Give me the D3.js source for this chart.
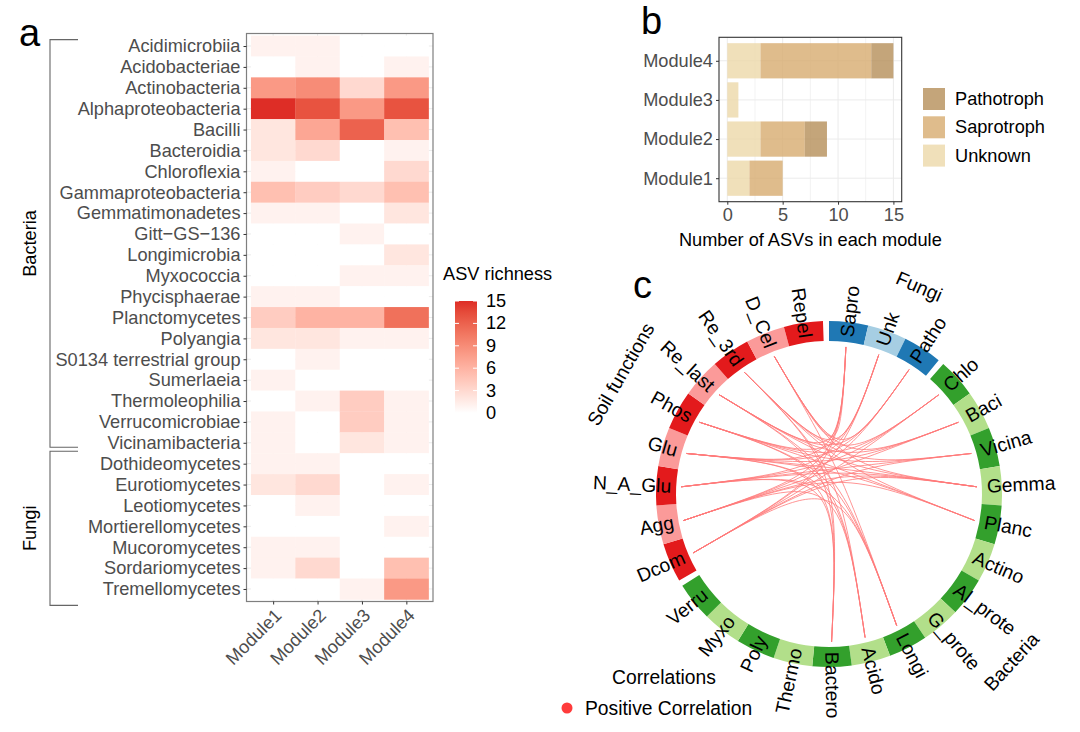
<!DOCTYPE html>
<html><head><meta charset="utf-8">
<script src="https://cdn.jsdelivr.net/npm/d3@7"></script>
<style>body{margin:0;background:#fff} text{font-family:"Liberation Sans",Arial,sans-serif}</style>
</head><body><svg id="c" width="1080" height="732"></svg>
<script>
// ---------- Panel a data ----------
const taxa = ["Acidimicrobiia","Acidobacteriae","Actinobacteria","Alphaproteobacteria","Bacilli","Bacteroidia","Chloroflexia","Gammaproteobacteria","Gemmatimonadetes","Gitt\u2212GS\u2212136","Longimicrobia","Myxococcia","Phycisphaerae","Planctomycetes","Polyangia","S0134 terrestrial group","Sumerlaeia","Thermoleophilia","Verrucomicrobiae","Vicinamibacteria","Dothideomycetes","Eurotiomycetes","Leotiomycetes","Mortierellomycetes","Mucoromycetes","Sordariomycetes","Tremellomycetes"];
const bacteriaTaxa = ["Acidimicrobiia","Vicinamibacteria"];
const fungiTaxa = ["Dothideomycetes","Tremellomycetes"];
const modules = ["Module1","Module2","Module3","Module4"];
const richModule1 = [1,0,8,15,2,2,1,5,1,0,0,0,1,4,2,0,1,0,1,1,1,2,0,0,1,1,0];
const richModule2 = [1,1,9,13,7,3,0,4,1,0,0,0,1,6,2,1,0,1,0,0,1,3,1,0,1,3,0];
const richModule3 = [0,0,3,8,12,0,0,3,0,1,0,1,0,6,1,0,0,4,4,2,0,0,0,0,0,0,1];
const richModule4 = [0,1,8,13,5,1,3,5,2,0,2,1,0,11,1,0,0,1,1,1,0,1,0,1,0,5,8];
const richTicks = [0,3,6,9,12,15];

// ---------- Panel b data ----------
const barModules = ["Module1","Module2","Module3","Module4"];
const guilds = ["Unknown","Saprotroph","Pathotroph"];
const unknownASV = [2,3,1,3];
const saprotrophASV = [3,4,0,10];
const pathotrophASV = [0,2,0,2];
const asvTicks = [0,5,10,15];

// ---------- Panel c data ----------
const fungiSectors = ["Sapro","Unk","Patho"];
const bacteriaSectors = ["Chlo","Baci","Vicina","Gemma","Planc","Actino","Al_prote","G_prote","Longi","Acido","Bactero","Thermo","Poly","Myxo","Verru"];
const soilSectors = ["Dcom","Agg","N_A_Glu","Glu","Phos","Re_last","Re_3rd","D_Cel","Repel"];
const links = [
 ["Dcom","Sapro"],["Dcom","Unk"],["Dcom","Chlo"],["Dcom","Vicina"],["Dcom","Gemma"],["Dcom","Longi"],
 ["Agg","Sapro"],["Agg","Patho"],["Agg","Baci"],["Agg","Gemma"],["Agg","Planc"],["Agg","Acido"],
 ["N_A_Glu","Unk"],["N_A_Glu","Chlo"],["N_A_Glu","Vicina"],["N_A_Glu","Gemma"],["N_A_Glu","Bactero"],["N_A_Glu","Longi"],
 ["Glu","Sapro"],["Glu","Patho"],["Glu","Baci"],["Glu","Gemma"],["Glu","Planc"],["Glu","Acido"],["Glu","Bactero"],
 ["Phos","Unk"],["Phos","Chlo"],["Phos","Vicina"],["Phos","Planc"],["Phos","Longi"],["Phos","Acido"],
 ["Re_last","Sapro"],["Re_last","Patho"],["Re_last","Baci"],["Re_last","Gemma"],["Re_last","Bactero"],["Re_last","Longi"],
 ["Re_3rd","Unk"],["Re_3rd","Chlo"],["Re_3rd","Vicina"],["Re_3rd","Planc"],["Re_3rd","Acido"],["Re_3rd","Bactero"],
 ["D_Cel","Sapro"],["D_Cel","Patho"],["D_Cel","Baci"],["D_Cel","Gemma"],["D_Cel","Longi"]
];

const svg = d3.select("#c");
const gray30 = "#4D4D4D";
const FS = 18.2;
const FSC = 19.3;

// ================= Panel a: heatmap =================
const richness = [richModule1, richModule2, richModule3, richModule4];
const hx = d3.scalePoint().domain(modules).range([246.5, 433]).padding(0.6);
const hy = d3.scalePoint().domain(taxa).range([33.5, 601.5]).padding(0.6);
const color = d3.scaleLinear().domain([0,15]).range(["#FFFFFF","#DE2D26"]).interpolate(d3.interpolateLab);
const gA = svg.append("g");
gA.selectAll(".gv").data(modules).join("line").attr("x1",d=>hx(d)).attr("x2",d=>hx(d)).attr("y1",33.5).attr("y2",601.5).attr("stroke","#EBEBEB");
gA.selectAll(".gh").data(taxa).join("line").attr("y1",d=>hy(d)).attr("y2",d=>hy(d)).attr("x1",246.5).attr("x2",433).attr("stroke","#EBEBEB");
const cells = [];
modules.forEach((m,i)=>taxa.forEach((t,j)=>cells.push({m,t,v:richness[i][j]})));
const sx = hx.step(), sy = hy.step();
gA.selectAll(".cell").data(cells).join("rect")
 .attr("x",d=>hx(d.m)-sx/2).attr("y",d=>hy(d.t)-sy/2).attr("width",sx+0.3).attr("height",sy+0.3)
 .attr("fill",d=>color(d.v));
gA.append("rect").attr("x",246.5).attr("y",33.5).attr("width",433-246.5).attr("height",601.5-33.5).attr("fill","none").attr("stroke","#7F7F7F").attr("stroke-width",1.2);
const ay = gA.append("g").attr("transform","translate(246.5,0)").call(d3.axisLeft(hy).tickSize(3).tickPadding(3));
ay.select(".domain").remove();
ay.selectAll("line").attr("stroke","#333");
ay.selectAll("text").attr("font-size",FS).attr("fill",gray30).attr("font-family","Liberation Sans, Arial, sans-serif");
const ax = gA.append("g").attr("transform","translate(0,601.5)").call(d3.axisBottom(hx).tickSize(3).tickPadding(3));
ax.select(".domain").remove();
ax.selectAll("line").attr("stroke","#333");
ax.selectAll("text").attr("font-size",FS).attr("fill",gray30).attr("font-family","Liberation Sans, Arial, sans-serif")
 .attr("text-anchor","end").attr("dominant-baseline","hanging").attr("dy",0).attr("y",6).attr("transform","rotate(-45,0,6)");
function bracket(t1,t2,label,pad){
  const y1 = hy(t1)-sy/2+pad[0], y2 = hy(t2)+sy/2+pad[1];
  gA.append("path").attr("d",`M78,${y1}H50V${y2}H78`).attr("fill","none").attr("stroke","#666").attr("stroke-width",1.1);
  gA.append("text").attr("transform",`translate(36,${(y1+y2)/2}) rotate(-90)`).attr("text-anchor","middle")
   .attr("font-size",FS).attr("fill","#000").text(label);
}
bracket(bacteriaTaxa[0],bacteriaTaxa[1],"Bacteria",[4,-6]);
bracket(fungiTaxa[0],fungiTaxa[1],"Fungi",[-2,6]);
const cb = svg.append("g");
cb.append("text").attr("x",443).attr("y",280).attr("font-size",FS).attr("fill","#000").text("ASV richness");
const cby = d3.scaleLinear().domain([0,15]).range([413,301]);
const defs = svg.append("defs");
const lg = defs.append("linearGradient").attr("id","cbg").attr("x1",0).attr("x2",0).attr("y1",1).attr("y2",0);
d3.range(0,15.01,1.5).forEach(v=>lg.append("stop").attr("offset",v/15).attr("stop-color",color(v)));
cb.append("rect").attr("x",455).attr("y",cby(15)).attr("width",22).attr("height",cby(0)-cby(15)).attr("fill","url(#cbg)");
richTicks.forEach(v=>{
  cb.append("line").attr("x1",455).attr("x2",459).attr("y1",cby(v)).attr("y2",cby(v)).attr("stroke","#fff");
  cb.append("line").attr("x1",473).attr("x2",477).attr("y1",cby(v)).attr("y2",cby(v)).attr("stroke","#fff");
  cb.append("text").attr("x",486).attr("y",cby(v)).attr("dominant-baseline","central").attr("font-size",FS).attr("fill","#000").text(v);
});

// ================= Panel b: stacked bars =================
const gB = svg.append("g");
const bx = d3.scaleLinear().domain([-0.75,15.75]).range([719,901.7]);
const by = d3.scalePoint().domain(barModules).range([201.7,37.3]).padding(0.6);
const guildData = {Unknown:unknownASV, Saprotroph:saprotrophASV, Pathotroph:pathotrophASV};
const guildColor = {Unknown:"#ECD8A9", Saprotroph:"#D7AB6F", Pathotroph:"#B58E59"};
[2.5,7.5,12.5].forEach(v=>gB.append("line").attr("x1",bx(v)).attr("x2",bx(v)).attr("y1",37.3).attr("y2",201.7).attr("stroke","#F3F3F3"));
asvTicks.forEach(v=>gB.append("line").attr("x1",bx(v)).attr("x2",bx(v)).attr("y1",37.3).attr("y2",201.7).attr("stroke","#EBEBEB"));
barModules.forEach(m=>gB.append("line").attr("y1",by(m)).attr("y2",by(m)).attr("x1",719).attr("x2",901.7).attr("stroke","#EBEBEB"));
const stackRows = barModules.map((m,i)=>{const o={module:m}; guilds.forEach(g=>o[g]=guildData[g][i]); return o;});
const series = d3.stack().keys(guilds)(stackRows);
const bh = by.step()*0.9;
series.forEach(s=>{
  gB.selectAll(null).data(s).join("rect")
   .attr("x",d=>bx(d[0])).attr("width",d=>bx(d[1])-bx(d[0]))
   .attr("y",d=>by(d.data.module)-bh/2).attr("height",bh)
   .attr("fill",guildColor[s.key]).attr("fill-opacity",0.8);
});
gB.append("rect").attr("x",719).attr("y",37.3).attr("width",901.7-719).attr("height",201.7-37.3).attr("fill","none").attr("stroke","#333").attr("stroke-width",1.1);
const bay = gB.append("g").attr("transform","translate(719,0)").call(d3.axisLeft(by).tickSize(3).tickPadding(3));
bay.select(".domain").remove(); bay.selectAll("line").attr("stroke","#333");
bay.selectAll("text").attr("font-size",FS).attr("fill",gray30).attr("font-family","Liberation Sans, Arial, sans-serif");
const bax = gB.append("g").attr("transform","translate(0,201.7)").call(d3.axisBottom(bx).tickValues(asvTicks).tickSize(3).tickPadding(3));
bax.select(".domain").remove(); bax.selectAll("line").attr("stroke","#333");
bax.selectAll("text").attr("font-size",FS).attr("fill",gray30).attr("font-family","Liberation Sans, Arial, sans-serif");
gB.append("text").attr("x",bx(7.5)).attr("y",246).attr("text-anchor","middle").attr("font-size",FS).attr("fill","#000").text("Number of ASVs in each module");
guilds.slice().reverse().forEach((g,i)=>{
  const y0 = 88 + i*28.3;
  gB.append("rect").attr("x",923).attr("y",y0).attr("width",22).attr("height",22).attr("fill",guildColor[g]).attr("fill-opacity",0.8);
  gB.append("text").attr("x",955).attr("y",y0+11).attr("dominant-baseline","central").attr("font-size",FS).attr("fill","#000").text(g);
});

// ================= Panel c: chord =================
const gC = svg.append("g");
const cx = 829, cy = 494, rIn = 153, rOut = 173, rLink = 148, rLab = 158;
const hubX = 840, hubY = 468, pull = 0.97;
const gapDeg = 2;
const groupsC = [
  {name:"Fungi", sectors:fungiSectors, colors:["#1F78B4","#A6CEE3"], labAng:23.5, labR:226},
  {name:"Bacteria", sectors:bacteriaSectors, colors:["#33A02C","#B2DF8A"], labAng:132.6, labR:248},
  {name:"Soil functions", sectors:soilSectors, colors:["#E31A1C","#FB9A99"], labAng:299.9, labR:240}
];
const nSec = fungiSectors.length + bacteriaSectors.length + soilSectors.length;
const secDeg = (360 - groupsC.length*gapDeg)/nSec;
const sectors = []; let acc = 0;
groupsC.forEach(g=>{ g.sectors.forEach((s,i)=>{ sectors.push({name:s,start:acc,end:acc+secDeg,color:g.colors[i%2]}); acc+=secDeg; }); acc+=gapDeg; });
const secBy = Object.fromEntries(sectors.map(s=>[s.name,s]));
const rad = d=>d*Math.PI/180;
const pt = (deg,r)=>[cx + r*Math.sin(rad(deg)), cy - r*Math.cos(rad(deg))];
links.forEach(([a,b])=>{
  const A = secBy[a], B = secBy[b];
  const p1 = pt((A.start+A.end)/2, rLink), p2 = pt((B.start+B.end)/2, rLink);
  const c1 = [p1[0]+pull*(hubX-p1[0]), p1[1]+pull*(hubY-p1[1])];
  const c2 = [p2[0]+pull*(hubX-p2[0]), p2[1]+pull*(hubY-p2[1])];
  gC.append("path").attr("d",`M${p1[0]},${p1[1]}C${c1[0]},${c1[1]} ${c2[0]},${c2[1]} ${p2[0]},${p2[1]}`)
   .attr("fill","none").attr("stroke","#FF7A7A").attr("stroke-opacity",0.8).attr("stroke-width",1);
});
const arc = d3.arc().innerRadius(rIn).outerRadius(rOut);
gC.selectAll(".sec").data(sectors).join("path")
 .attr("transform",`translate(${cx},${cy})`)
 .attr("d",d=>arc({startAngle:rad(d.start),endAngle:rad(d.end)}))
 .attr("fill",d=>d.color);
sectors.forEach(s=>{
  const m = (s.start+s.end)/2; const [x,y] = pt(m,rLab);
  const right = m < 180;
  gC.append("text").attr("transform",`translate(${x},${y}) rotate(${right? m-90 : m-270})`)
   .attr("text-anchor", right? "start":"end").attr("dominant-baseline","central")
   .attr("font-size",FSC).attr("fill","#000").text(s.name);
});
groupsC.forEach(g=>{
  const [x,y] = pt(g.labAng,g.labR);
  const rot = (g.labAng>90 && g.labAng<270) ? g.labAng-180 : (g.labAng>270? g.labAng-360 : g.labAng);
  gC.append("text").attr("transform",`translate(${x},${y}) rotate(${rot})`).attr("text-anchor","middle")
   .attr("dominant-baseline","central").attr("font-size",FSC).attr("fill","#000").text(g.name);
});
gC.append("text").attr("x",612).attr("y",677).attr("dominant-baseline","central").attr("font-size",FSC).attr("fill","#000").text("Correlations");
gC.append("circle").attr("cx",567).attr("cy",708).attr("r",5.5).attr("fill","#FF3B3B");
gC.append("text").attr("x",585).attr("y",708).attr("dominant-baseline","central").attr("font-size",FSC).attr("fill","#000").text("Positive Correlation");

[["a",19,46],["b",641,34],["c",633,298]].forEach(([t,x,y])=>svg.append("text").attr("x",x).attr("y",y).attr("font-size",38).attr("fill","#000").text(t));
</script></body></html>
